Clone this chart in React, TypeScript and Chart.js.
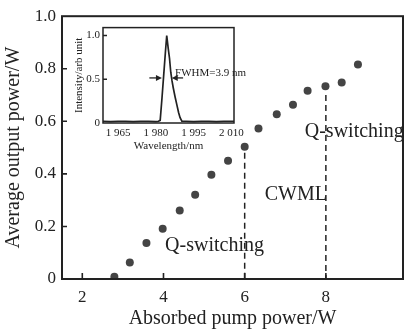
import React, { useEffect, useRef } from "react";
import { Chart, registerables } from "chart.js";

Chart.register(...registerables);

// ---------- main chart data ----------
const pumpPower = [2.79, 3.17, 3.58, 3.98, 4.4, 4.78, 5.18, 5.59, 6.0, 6.34, 6.79, 7.19, 7.55, 7.99, 8.39, 8.79];
const outputPower = [0.009, 0.063, 0.137, 0.191, 0.261, 0.321, 0.397, 0.45, 0.503, 0.573, 0.627, 0.663, 0.716, 0.733, 0.748, 0.816];
const xTicks = [2, 4, 6, 8];
const yTicks = [0, 0.2, 0.4, 0.6, 0.8, 1.0];
const yTickLabels = ["0", "0.2", "0.4", "0.6", "0.8", "1.0"];
const boundaryX = [6, 8];
const boundaryTop = [0.48, 0.7];
const regionLabels = ["Q-switching", "CWML", "Q-switching"];
const regionAnchorX = [4.04, 7.26, 7.48];
const regionAnchorY = [0.125, 0.319, 0.56];
const regionAlign: CanvasTextAlign[] = ["left", "center", "left"];

// ---------- inset data ----------
const wavelength = [1959, 1962, 1965, 1968, 1971, 1974, 1977, 1980, 1981, 1981.7, 1982.4, 1983.1, 1983.8, 1984.3, 1984.9, 1985.4, 1985.9, 1986.4, 1986.9, 1987.6, 1988.3, 1989, 1989.6, 1990.3, 1992, 1995, 1998, 2001, 2004, 2007, 2010, 2011];
const intensity = [0.02, 0.015, 0.02, 0.02, 0.015, 0.02, 0.02, 0.015, 0.02, 0.03, 0.28, 0.55, 0.82, 1.0, 0.85, 0.74, 0.58, 0.48, 0.4, 0.3, 0.21, 0.12, 0.06, 0.02, 0.02, 0.015, 0.02, 0.02, 0.015, 0.02, 0.02, 0.02];
const insetXTicks = [1965, 1980, 1995, 2010];
const insetXTickLabels = ["1 965", "1 980", "1 995", "2 010"];
const insetYTicks = [0, 0.5, 1.0];
const insetYTickLabels = ["0", "0.5", "1.0"];
const fwhmText = "FWHM=3.9 nm";
const fwhmLeftArrow = [1977.4, 1982.4];
const fwhmRightArrow = [1990.8, 1986.3];
const fwhmLevel = 0.515;
const fwhmTextAnchor = [1987.6, 0.574];

const family = "'Liberation Serif', 'Times New Roman', serif";
const ink = "#222";

function arrow(ctx: CanvasRenderingContext2D, x0: number, x1: number, y: number) {
  const dir = x1 > x0 ? 1 : -1;
  ctx.beginPath();
  ctx.moveTo(x0, y);
  ctx.lineTo(x1 - dir * 5, y);
  ctx.stroke();
  ctx.beginPath();
  ctx.moveTo(x1, y);
  ctx.lineTo(x1 - dir * 6, y - 3);
  ctx.lineTo(x1 - dir * 6, y + 3);
  ctx.closePath();
  ctx.fill();
}

function MainChart() {
  const ref = useRef<HTMLCanvasElement>(null);
  useEffect(() => {
    const frame = {
      id: "frameMain",
      afterDraw(chart: any) {
        const { ctx, chartArea: a, scales } = chart;
        ctx.save();
        ctx.strokeStyle = ink;
        ctx.lineWidth = 2;
        ctx.strokeRect(a.left, a.top, a.right - a.left, a.bottom - a.top);
        ctx.lineWidth = 1.6;
        ctx.beginPath();
        for (const v of xTicks) {
          const x = scales.x.getPixelForValue(v);
          ctx.moveTo(x, a.bottom);
          ctx.lineTo(x, a.bottom - 6);
        }
        for (const v of yTicks) {
          if (v === 0 || v === 1) continue;
          const y = scales.y.getPixelForValue(v);
          ctx.moveTo(a.left, y);
          ctx.lineTo(a.left + 5, y);
        }
        ctx.stroke();
        ctx.fillStyle = ink;
        ctx.font = `20px ${family}`;
        ctx.textBaseline = "middle";
        regionLabels.forEach((t, i) => {
          ctx.textAlign = regionAlign[i];
          ctx.fillText(t, scales.x.getPixelForValue(regionAnchorX[i]), scales.y.getPixelForValue(regionAnchorY[i]));
        });
        ctx.restore();
      },
    };
    const chart = new Chart(ref.current as HTMLCanvasElement, {
      type: "scatter",
      data: {
        datasets: [
          {
            data: pumpPower.map((x, i) => ({ x, y: outputPower[i] })),
            pointRadius: 4,
            pointBackgroundColor: "#444",
            pointBorderColor: "#444",
            pointBorderWidth: 0,
          } as any,
          ...boundaryX.map((x, i) => ({
            data: [
              { x, y: boundaryTop[i] },
              { x, y: 0 },
            ],
            showLine: true,
            borderDash: [6, 4],
            borderColor: ink,
            borderWidth: 1.5,
            pointRadius: 0,
          })),
        ],
      },
      options: {
        animation: false,
        responsive: false,
        devicePixelRatio: 1,
        layout: { padding: { left: 0, right: 5, top: 16, bottom: 0 } },
        plugins: { legend: { display: false }, tooltip: { enabled: false } },
        scales: {
          x: {
            type: "linear",
            min: 1.5,
            max: 9.9,
            afterBuildTicks: (s: any) => {
              s.ticks = xTicks.map((v) => ({ value: v }));
            },
            afterFit: (s: any) => {
              s.height = 52;
            },
            grid: { display: false, drawTicks: false },
            border: { display: false },
            ticks: { padding: 8, color: ink, font: { family, size: 17 }, callback: (v: any) => String(v) },
            title: { display: true, text: "Absorbed pump power/W", color: ink, font: { family, size: 20 }, padding: { top: 0, bottom: 0 } },
          },
          y: {
            type: "linear",
            min: 0,
            max: 1.0,
            afterBuildTicks: (s: any) => {
              s.ticks = yTicks.map((v) => ({ value: v }));
            },
            afterFit: (s: any) => {
              s.width = 62;
            },
            grid: { display: false, drawTicks: false },
            border: { display: false },
            ticks: {
              padding: 6,
              color: ink,
              font: { family, size: 17 },
              callback: (v: any) => {
                const i = yTicks.findIndex((t) => Math.abs(t - v) < 1e-6);
                return i >= 0 ? yTickLabels[i] : "";
              },
            },
            title: { display: true, text: "Average output power/W", color: ink, font: { family, size: 20 }, padding: { top: 2, bottom: 0 } },
          },
        },
      },
      plugins: [frame],
    } as any);
    return () => chart.destroy();
  }, []);
  return <canvas ref={ref} width={408} height={331} style={{ position: "absolute", left: 0, top: 0 }} />;
}

function InsetChart() {
  const ref = useRef<HTMLCanvasElement>(null);
  useEffect(() => {
    const frame = {
      id: "frameInset",
      afterDraw(chart: any) {
        const { ctx, chartArea: a, scales } = chart;
        ctx.save();
        ctx.strokeStyle = ink;
        ctx.fillStyle = ink;
        ctx.lineWidth = 1.5;
        ctx.strokeRect(a.left, a.top, a.right - a.left, a.bottom - a.top);
        ctx.beginPath();
        for (const v of insetYTicks) {
          if (v === 0) continue;
          const y = scales.y.getPixelForValue(v);
          ctx.moveTo(a.left, y);
          ctx.lineTo(a.left + 4, y);
        }
        ctx.stroke();
        ctx.lineWidth = 1.3;
        const yA = scales.y.getPixelForValue(fwhmLevel);
        arrow(ctx, scales.x.getPixelForValue(fwhmLeftArrow[0]), scales.x.getPixelForValue(fwhmLeftArrow[1]), yA);
        arrow(ctx, scales.x.getPixelForValue(fwhmRightArrow[0]), scales.x.getPixelForValue(fwhmRightArrow[1]), yA);
        ctx.font = `11px ${family}`;
        ctx.textAlign = "left";
        ctx.textBaseline = "middle";
        ctx.fillText(fwhmText, scales.x.getPixelForValue(fwhmTextAnchor[0]), scales.y.getPixelForValue(fwhmTextAnchor[1]));
        ctx.restore();
      },
    };
    const chart = new Chart(ref.current as HTMLCanvasElement, {
      type: "line",
      data: {
        datasets: [
          {
            data: wavelength.map((x, i) => ({ x, y: intensity[i] })),
            borderColor: ink,
            borderWidth: 1.7,
            pointRadius: 0,
            tension: 0,
          },
        ],
      },
      options: {
        animation: false,
        responsive: false,
        devicePixelRatio: 1,
        layout: { padding: { left: 0, right: 16, top: 6, bottom: 0 } },
        plugins: { legend: { display: false }, tooltip: { enabled: false } },
        scales: {
          x: {
            type: "linear",
            min: 1959,
            max: 2011,
            afterBuildTicks: (s: any) => {
              s.ticks = insetXTicks.map((v) => ({ value: v }));
            },
            afterFit: (s: any) => {
              s.height = 32;
            },
            grid: { display: false, drawTicks: false },
            border: { display: false },
            ticks: {
              padding: 4,
              color: ink,
              maxRotation: 0,
              autoSkip: false,
              font: { family, size: 11 },
              callback: (v: any) => {
                const i = insetXTicks.indexOf(v);
                return i >= 0 ? insetXTickLabels[i] : "";
              },
            },
            title: { display: true, text: "Wavelength/nm", color: ink, font: { family, size: 11 }, padding: { top: 0, bottom: 2 } },
          },
          y: {
            type: "linear",
            min: 0,
            max: 1.09,
            afterBuildTicks: (s: any) => {
              s.ticks = insetYTicks.map((v) => ({ value: v }));
            },
            afterFit: (s: any) => {
              s.width = 33;
            },
            grid: { display: false, drawTicks: false },
            border: { display: false },
            ticks: {
              padding: 3,
              color: ink,
              font: { family, size: 11 },
              callback: (v: any) => {
                const i = insetYTicks.findIndex((t) => Math.abs(t - v) < 1e-6);
                return i >= 0 ? insetYTickLabels[i] : "";
              },
            },
            title: { display: true, text: "Intensity/arb unit", color: ink, font: { family, size: 11 }, padding: { top: 3, bottom: 0 } },
          },
        },
      },
      plugins: [frame],
    } as any);
    return () => chart.destroy();
  }, []);
  return <canvas ref={ref} width={180} height={137} style={{ position: "absolute", left: 70, top: 18 }} />;
}

export default function App() {
  return (
    <div style={{ position: "fixed", left: 0, top: 0, width: 408, height: 331, background: "#fff" }}>
      <MainChart />
      <InsetChart />
    </div>
  );
}
